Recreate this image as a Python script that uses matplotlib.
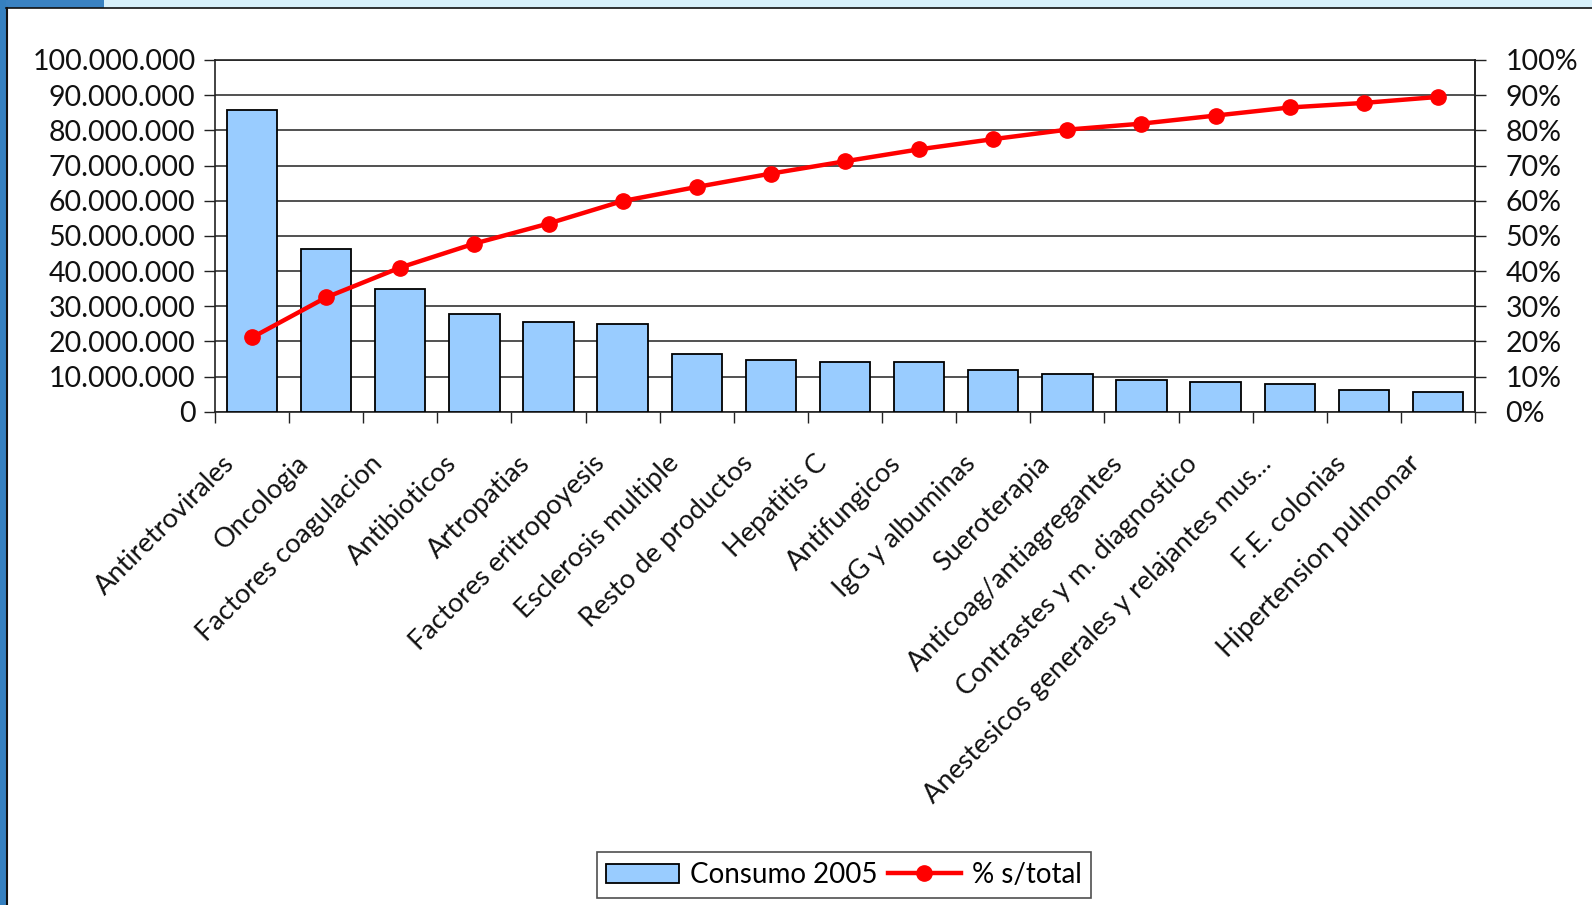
import matplotlib
matplotlib.use("Agg")
import matplotlib.pyplot as plt
import matplotlib.transforms as mtransforms
from matplotlib.patches import Rectangle
from matplotlib.lines import Line2D
from matplotlib.ticker import FuncFormatter

plt.rcParams['font.family'] = ['Lato', 'DejaVu Sans']

categorias = ["Antiretrovirales", "Oncologia", "Factores coagulacion", "Antibioticos",
              "Artropatias", "Factores eritropoyesis", "Esclerosis multiple",
              "Resto de productos", "Hepatitis C", "Antifungicos", "IgG y albuminas",
              "Sueroterapia", "Anticoag/antiagregantes", "Contrastes y m. diagnostico",
              "Anestesicos generales y relajantes mus...", "F.E. colonias",
              "Hipertension pulmonar"]
consumo_2005 = [85.7e6, 46.4e6, 35.0e6, 27.7e6, 25.4e6, 24.8e6, 16.4e6, 14.8e6,
                14.2e6, 14.2e6, 11.8e6, 10.7e6, 9.0e6, 8.4e6, 7.8e6, 6.2e6, 5.6e6]
pct_total = [21.1, 32.5, 41.0, 47.8, 53.5, 59.9, 63.9, 67.7, 71.2, 74.6, 77.5,
             80.2, 81.9, 84.2, 86.5, 87.8, 89.5]

W, H = 1592, 905
fig = plt.figure(figsize=(W / 100, H / 100), dpi=100)

# window frame around the chart
fig.patches.append(Rectangle((0, 1 - 8 / H), 1, 8 / H, transform=fig.transFigure,
                             facecolor="#d8f1fb", edgecolor="none", zorder=0))
fig.patches.append(Rectangle((0, 1 - 8 / H), 104 / W, 8 / H, transform=fig.transFigure,
                             facecolor="#3a82c2", edgecolor="none", zorder=0))
fig.patches.append(Rectangle((0, 0), 6 / W, 1, transform=fig.transFigure,
                             facecolor="#3580c0", edgecolor="none", zorder=0))
fig.lines.append(Line2D([6.5 / W, 6.5 / W], [0, 1 - 8 / H], transform=fig.transFigure,
                        color="#111111", lw=1.5))
fig.lines.append(Line2D([6 / W, 1], [1 - 8.5 / H, 1 - 8.5 / H], transform=fig.transFigure,
                        color="#111111", lw=1.2))

ax = fig.add_axes([215 / W, 1 - 411.7 / H, 1260 / W, (411.7 - 60) / H])
x = list(range(len(categorias)))

ax.bar(x, consumo_2005, width=0.68, color="#99ccff", edgecolor="black", linewidth=1.3, zorder=3)
ax.set_xlim(-0.5, len(categorias) - 0.5)
ax.set_ylim(0, 100e6)
ax.set_yticks([i * 10e6 for i in range(11)])
ax.yaxis.set_major_formatter(FuncFormatter(lambda v, p: f"{v:,.0f}".replace(",", ".")))
ax.grid(axis="y", color="#222222", linewidth=1.1, zorder=0)
ax.set_axisbelow(True)
for s in ax.spines.values():
    s.set_color("#222222")
    s.set_linewidth(1.2)
ax.tick_params(axis="y", direction="out", length=8, width=1, pad=6, labelsize=20.5,
               colors="#222222", labelcolor="#111111")

# labels at bar centres, tick marks at category boundaries
ax.set_xticks(x)
ax.set_xticklabels(categorias, rotation=45, ha="right", va="center",
                   rotation_mode="anchor", fontsize=19.5, color="#111111")
ax.set_xticks([i - 0.5 for i in range(len(categorias) + 1)], minor=True)
ax.tick_params(axis="x", which="major", length=0, pad=0)
ax.tick_params(axis="x", which="minor", direction="out", length=8, width=1, colors="#222222")
shift = mtransforms.ScaledTranslation(-0.22, -0.48, fig.dpi_scale_trans)
for lab in ax.get_xticklabels():
    lab.set_transform(lab.get_transform() + shift)

ax2 = ax.twinx()
ax2.plot(x, pct_total, color="#ff0000", lw=3.2, marker="o", markersize=11, zorder=4)
ax2.set_ylim(0, 100)
ax2.set_yticks(range(0, 101, 10))
ax2.set_yticklabels([f"{v}%" for v in range(0, 101, 10)])
ax2.tick_params(axis="y", direction="out", length=8, width=1, pad=14, labelsize=20.5,
                colors="#222222", labelcolor="#111111")
for s in ax2.spines.values():
    s.set_visible(False)
ax2.spines["right"].set_visible(True)
ax2.spines["right"].set_color("#222222")
ax2.spines["right"].set_linewidth(1.2)

handles = [Rectangle((0, 0), 1, 1, facecolor="#99ccff", edgecolor="black", linewidth=1.3),
           Line2D([], [], color="#ff0000", lw=3.2, marker="o", markersize=11)]
leg = fig.legend(handles, ["Consumo 2005", "% s/total"], loc="center",
                 bbox_to_anchor=(844 / W, 1 - 875 / H), ncol=2, fontsize=20,
                 frameon=True, fancybox=False, edgecolor="#222222",
                 handlelength=2.6, handletextpad=0.4, columnspacing=0.4, borderpad=0.35)
leg.get_frame().set_linewidth(1.2)

fig.savefig("out.png", dpi=100, facecolor="white")
